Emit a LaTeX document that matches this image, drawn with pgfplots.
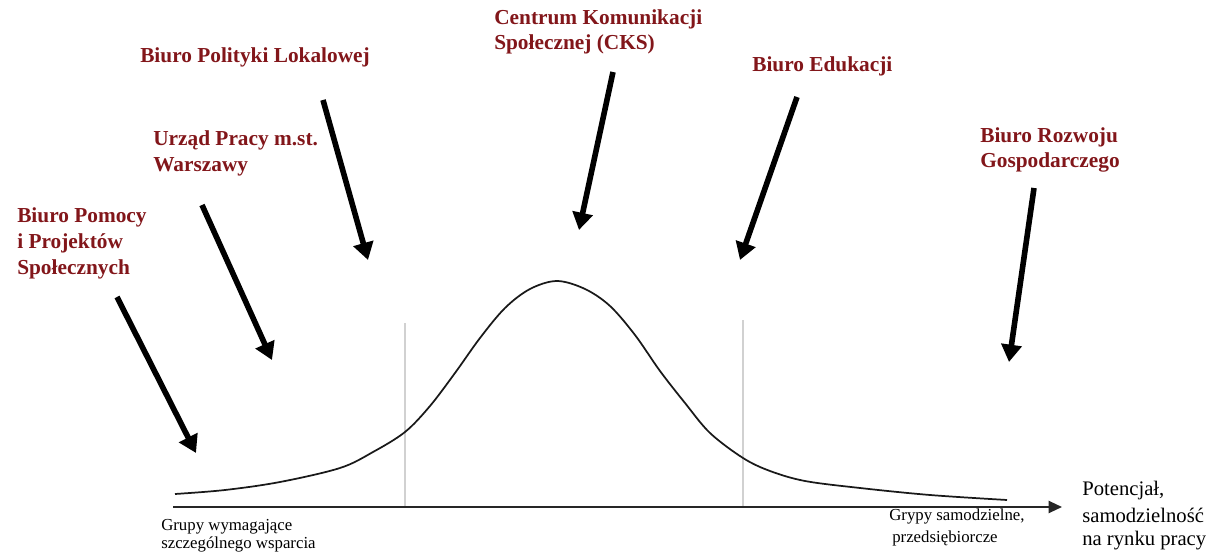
\documentclass[border=0pt]{standalone}
\usepackage{fontspec}
\setmainfont{Liberation Serif}
\usepackage{pgfplots}
\pgfplotsset{compat=1.18}
\usetikzlibrary{arrows.meta}
\definecolor{lab}{RGB}{130,22,26}
\begin{document}
\begin{tikzpicture}
\begin{axis}[x=0.75pt,y=0.75pt,xmin=0,xmax=1219,ymin=0,ymax=553,hide axis,clip=false]
\addplot[draw=none] coordinates {(0,0) (1219,553)};
% gray separators
\addplot[color=black!18, line width=1.1pt] coordinates {(405,47) (405,230)};
\addplot[color=black!18, line width=1.1pt] coordinates {(743,47) (743,233)};
% horizontal axis arrow
\addplot[color=black!85, line width=1.6pt, -{Triangle[length=10pt,width=9pt]}] coordinates {(173,46) (1062,46)};
% bell curve
\addplot[black!90, line width=1.3pt, smooth, tension=0.55] coordinates {
(175,59) (225,63) (280,71) (340,85) (373,101) (405,121) (430,147) (455,180)
(480,215) (505,245) (530,264) (557,272) (585,264) (610,247) (635,218)
(660,182) (685,150) (710,120) (743,95) (770,82) (805,72) (860,65) (930,58) (1007,53)};
% pointer arrows
\addplot[black, line width=4.2pt, -{Triangle[length=13pt,width=15pt]}] coordinates {(117,256) (196,100)};
\addplot[black, line width=4.2pt, -{Triangle[length=13pt,width=15pt]}] coordinates {(202,348) (272,193)};
\addplot[black, line width=4.2pt, -{Triangle[length=13pt,width=15pt]}] coordinates {(323,453) (368,293)};
\addplot[black, line width=4.2pt, -{Triangle[length=13pt,width=15pt]}] coordinates {(613,481) (579,323)};
\addplot[black, line width=4.2pt, -{Triangle[length=13pt,width=15pt]}] coordinates {(797,456) (740,293)};
\addplot[black, line width=4.2pt, -{Triangle[length=13pt,width=15pt]}] coordinates {(1034,365) (1009,191)};
% labels
\tikzset{lbl/.style={anchor=base west, inner sep=0pt, text=lab, font=\bfseries\fontsize{16}{19}\selectfont},
         small/.style={anchor=base west, inner sep=0pt, text=black, font=\fontsize{12.6}{14}\selectfont},
         big/.style={anchor=base west, inner sep=0pt, text=black, font=\fontsize{15.5}{18}\selectfont}}
\node[lbl] at (axis cs:17,330) {Biuro Pomocy};
\node[lbl] at (axis cs:17,304) {i Projektów};
\node[lbl] at (axis cs:17,278) {Społecznych};
\node[lbl] at (axis cs:153,407) {Urząd Pracy m.st.};
\node[lbl] at (axis cs:153,381) {Warszawy};
\node[lbl] at (axis cs:140,490) {Biuro Polityki Lokalowej};
\node[lbl] at (axis cs:494,528) {Centrum Komunikacji};
\node[lbl] at (axis cs:494,503) {Społecznej (CKS)};
\node[lbl] at (axis cs:752,481) {Biuro Edukacji};
\node[lbl] at (axis cs:980,410) {Biuro Rozwoju};
\node[lbl] at (axis cs:980,385) {Gospodarczego};
\node[small] at (axis cs:161,23) {Grupy wymagające};
\node[small] at (axis cs:161,5) {szczególnego wsparcia};
\node[small] at (axis cs:889,33) {Grypy samodzielne,};
\node[small] at (axis cs:892,11) {przedsiębiorcze};
\node[big] at (axis cs:1082,58) {Potencjał,};
\node[big] at (axis cs:1082,31) {samodzielność};
\node[big] at (axis cs:1082,8) {na rynku pracy};
\end{axis}
\end{tikzpicture}
\end{document}
